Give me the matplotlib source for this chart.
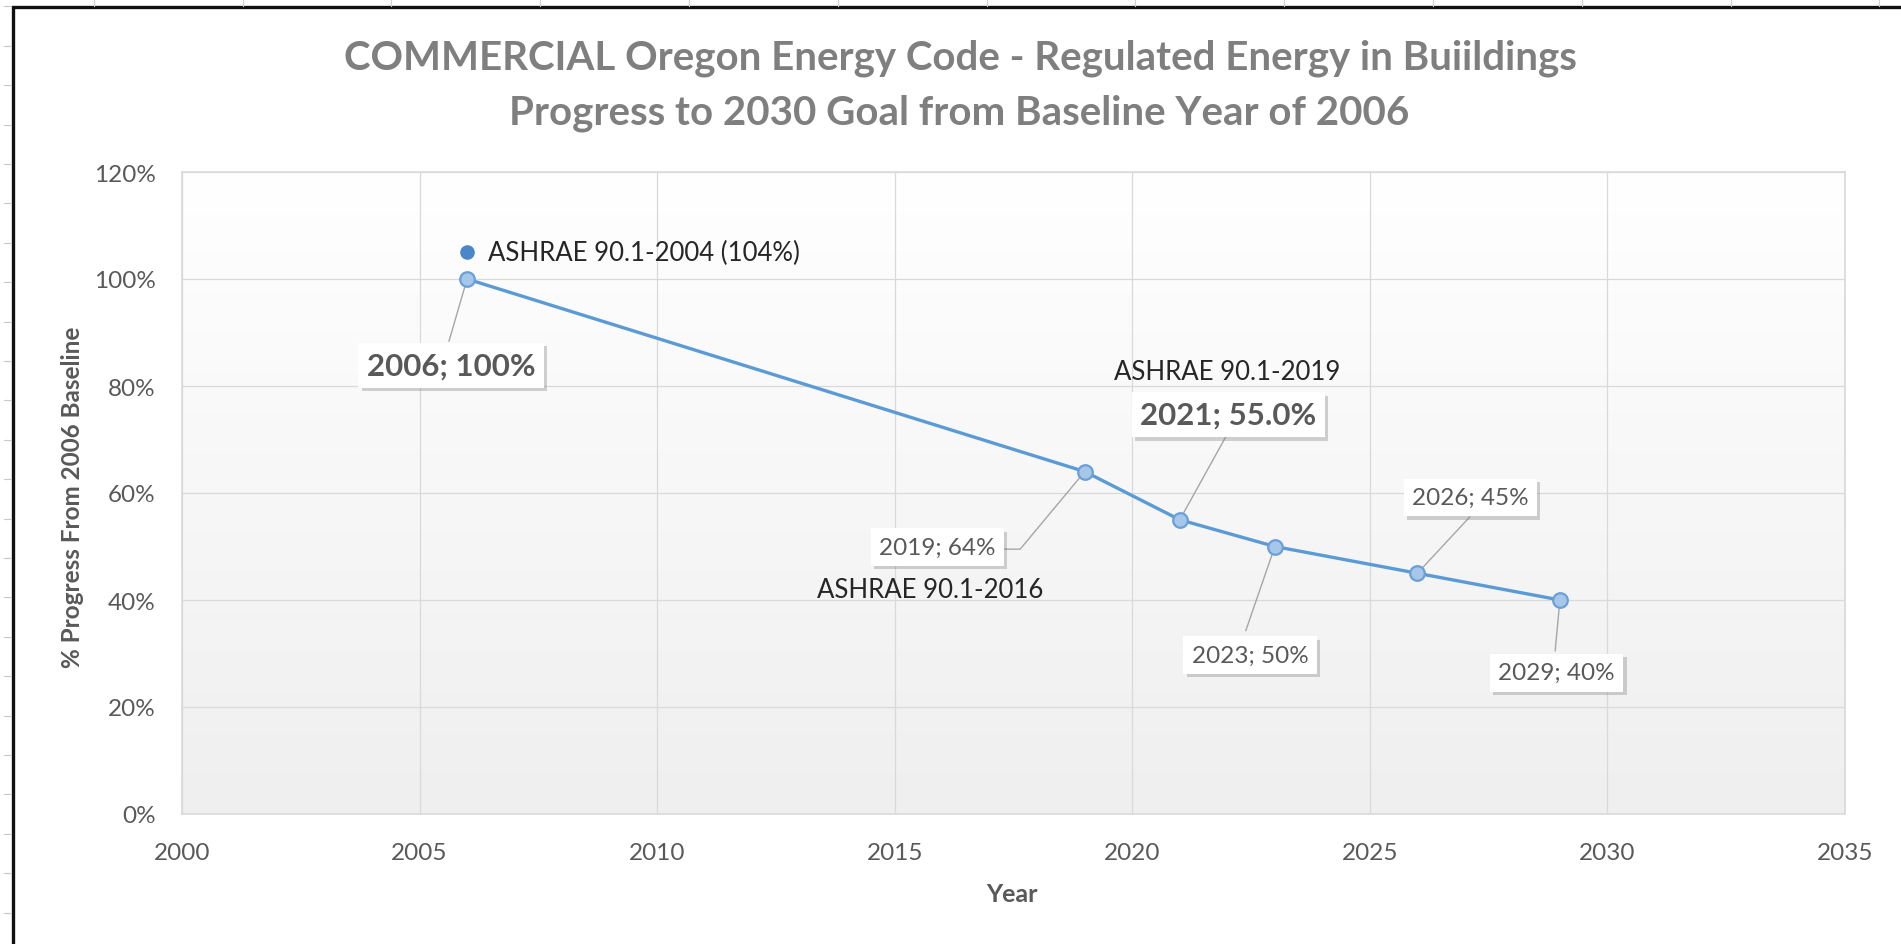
import numpy as np
import matplotlib
matplotlib.use('Agg')
import matplotlib.pyplot as plt
import matplotlib.patheffects as pe
import matplotlib.ticker as mticker
from matplotlib.lines import Line2D
from matplotlib.patches import Rectangle

plt.rcParams['font.family'] = ['Lato', 'DejaVu Sans']

# data
years = [2006, 2019, 2021, 2023, 2026, 2029]
progress = [100, 64, 55, 50, 45, 40]
point_labels = ['2006; 100%', '2019; 64%', '2021; 55.0%', '2023; 50%', '2026; 45%', '2029; 40%']
ashrae_2004_year = 2006
ashrae_2004_val = 105
ashrae_2004_label = 'ASHRAE 90.1-2004 (104%)'
xticks = list(range(2000, 2036, 5))
yticks = list(range(0, 121, 20))

# layout of the callouts (label centre, leader end)
label_xy = [(2005.66, 83.9), (2015.9, 49.9), (2022.02, 74.6),
            (2022.48, 29.7), (2027.11, 59.2), (2028.93, 26.4)]
leader_xy = [(2005.62, 88.4), (2017.64, 49.5), (2022.03, 71.5),
             (2022.39, 34.3), (2027.10, 55.5), (2028.90, 30.5)]
bold = [True, False, True, False, False, False]

W, H = 1901, 945
fig = plt.figure(figsize=(W / 100, H / 100), dpi=100)
fig.patch.set_facecolor('white')

# spreadsheet bits around the chart frame
for k in range(13):
    x = 93.75 + 148.8 * k
    fig.add_artist(Line2D([x / W, x / W], [1, 1 - 7 / H], color='#d0d0d0', lw=0.8))
for k in range(24):
    y = 7.4 + 39.4 * k
    fig.add_artist(Line2D([4 / W, 11 / W], [1 - y / H, 1 - y / H], color='#c8c8c8', lw=0.8))
fig.add_artist(Rectangle((12.5 / W, -0.1), 1.2, 1 - 7.5 / H + 0.1, transform=fig.transFigure,
                         fill=False, ec='#111111', lw=2.4))

ax = fig.add_axes([182 / W, 1 - 815 / H, (1845 - 182) / W, (815 - 173) / H])

# gradient plot background
grad = np.linspace(1.0, 0.0, 256).reshape(-1, 1)
ax.imshow(grad, extent=[0, 1, 0, 1], transform=ax.transAxes, aspect='auto',
          cmap=matplotlib.colors.LinearSegmentedColormap.from_list('g', ['#efefef', '#ffffff']),
          zorder=0)

ax.set_xlim(2000, 2035)
ax.set_ylim(0, 120)
ax.set_xticks(xticks)
ax.set_yticks(yticks)
ax.yaxis.set_major_formatter(mticker.PercentFormatter(decimals=0))
ax.grid(True, color='#d9d9d9', lw=0.9, zorder=1)
ax.set_axisbelow(True)
for s in ax.spines.values():
    s.set_color('#d9d9d9')
    s.set_linewidth(1.2)
ax.tick_params(length=0, labelsize=17.5, labelcolor='#595959')
ax.tick_params(axis='x', pad=20)
ax.tick_params(axis='y', pad=19)

ax.plot(years, progress, color='#5b9bd5', lw=2.4, marker='o', ms=10.5,
        mfc='#a6c6ea', mec='#6a9fd8', mew=1.6, zorder=4)
ax.plot([ashrae_2004_year], [ashrae_2004_val], 'o', color='#4a86c8', ms=9.5, zorder=4)
ax.text(2006.44, ashrae_2004_val, ashrae_2004_label, ha='left', va='center',
        fontsize=18.5, color='#262626', zorder=6)

for i, (yr, val, txt) in enumerate(zip(years, progress, point_labels)):
    lx, ly = label_xy[i]
    ex, ey = leader_xy[i]
    xs = [yr, ex, lx] if i == 1 else [yr, ex]
    ys = [val, ey, ey] if i == 1 else [val, ey]
    ax.plot(xs, ys, color='#a6a6a6', lw=1.0, zorder=3)
    if bold[i]:
        t = ax.text(lx, ly, txt, ha='center', va='center', fontsize=22.5, fontweight='bold',
                    color='#595959', zorder=6,
                    bbox=dict(boxstyle='square,pad=0.27', fc='white', ec='none'))
    else:
        t = ax.text(lx, ly, txt, ha='center', va='center', fontsize=17.5, color='#595959',
                    zorder=6, bbox=dict(boxstyle='square,pad=0.34', fc='white', ec='none'))
    t.get_bbox_patch().set_path_effects([
        pe.SimplePatchShadow(offset=(2.5, -2.5), shadow_rgbFace='#808080', alpha=0.35),
        pe.Normal()])

ax.text(2022.0, 82.8, 'ASHRAE 90.1-2019', ha='center', va='center', fontsize=18.5,
        color='#262626', zorder=6)
ax.text(2015.74, 41.9, 'ASHRAE 90.1-2016', ha='center', va='center', fontsize=18.5,
        color='#262626', zorder=6)

fig.text(960 / W, 1 - 58 / H, 'COMMERCIAL Oregon Energy Code - Regulated Energy in Buiildings',
         ha='center', va='center', fontsize=29, fontweight='bold', color='#7f7f7f')
fig.text(959 / W, 1 - 113 / H, 'Progress to 2030 Goal from Baseline Year of 2006',
         ha='center', va='center', fontsize=29, fontweight='bold', color='#7f7f7f')
fig.text(73 / W, 1 - 497 / H, '% Progress From 2006 Baseline', rotation=90, ha='center',
         va='center', fontsize=17.5, fontweight='bold', color='#595959')
fig.text(1012 / W, 1 - 895 / H, 'Year', ha='center', va='center', fontsize=18,
         fontweight='bold', color='#595959')

fig.savefig('out.png', dpi=100)
